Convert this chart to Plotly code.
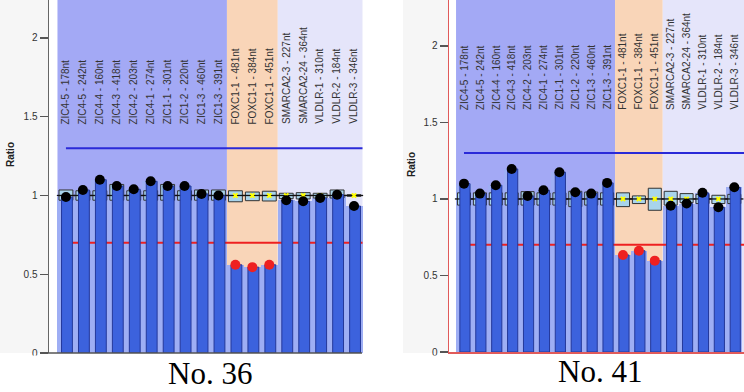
import plotly.graph_objects as go

# ---------------- data ----------------
probes = ["ZIC4-5 - 178nt", "ZIC4-5 - 242nt", "ZIC4-4 - 160nt", "ZIC4-3 - 418nt",
          "ZIC4-2 - 203nt", "ZIC4-1 - 274nt", "ZIC1-1 - 301nt", "ZIC1-2 - 220nt",
          "ZIC1-3 - 460nt", "ZIC1-3 - 391nt", "FOXC1-1 - 481nt", "FOXC1-1 - 384nt",
          "FOXC1-1 - 451nt", "SMARCA2-3 - 227nt", "SMARCA2-24 - 364nt",
          "VLDLR-1 - 310nt", "VLDLR-2 - 184nt", "VLDLR-3 - 346nt"]

ratio_36 = [0.99, 1.035, 1.10, 1.06, 1.04, 1.09, 1.06, 1.06, 1.01, 1.00,
            0.56, 0.545, 0.56, 0.97, 0.963, 0.984, 1.005, 0.933]
box_lo_36 = [0.97, 0.97, 0.97, 0.97, 0.97, 0.97, 0.97, 0.97, 0.97, 0.97,
             0.96, 0.967, 0.965, 0.98, 0.978, 0.984, 0.984, 0.995]
box_hi_36 = [1.035, 1.03, 1.03, 1.07, 1.03, 1.03, 1.07, 1.03, 1.035, 1.035,
             1.03, 1.022, 1.027, 1.014, 1.018, 1.014, 1.035, 1.005]

ratio_41 = [1.10, 1.035, 1.09, 1.196, 1.02, 1.057, 1.175, 1.044, 1.035, 1.105,
            0.634, 0.662, 0.597, 0.956, 0.97, 1.04, 0.946, 1.076]
box_lo_41 = [0.96, 0.96, 0.96, 0.96, 0.96, 0.96, 0.96, 0.95, 0.96, 0.96,
             0.95, 0.97, 0.926, 0.96, 0.976, 0.97, 0.97, 0.97]
box_hi_41 = [1.04, 1.04, 1.04, 1.04, 1.048, 1.04, 1.04, 1.05, 1.045, 1.04,
             1.04, 1.02, 1.07, 1.05, 1.035, 1.03, 1.024, 1.03]

median_ref = [1.0] * len(probes)
upper_threshold = 1.3
lower_threshold = 0.7
tick_vals = [0, 0.5, 1, 1.5, 2]
tick_text = ["0", "0.5", "1", "1.5", "2"]
sample_names = ["No. 36", "No. 41"]

# groups (index ranges of probes)
groups = [(-0.5, 9.5, "#a3a9f5"), (9.5, 12.5, "#f9d5b8"), (12.5, 17.5, "#e5e5fa")]

# ---------------- styles ----------------
W, H = 744, 392
LIGHT = "#9eaef4"
DARK = "#3c62dd"
EDGE = "#24389a"
BOXFILL = "#a8d4ec"
BLUE = "#2a2ad8"
RED = "#ee2020"
FONT = "Arial, Liberation Sans, sans-serif"

fig = go.Figure()


def px_x(p):
    return p / W


def px_y(p):
    return (H - p) / H


def add_panel(xa, ya, xo, yo, vals, lo, hi, xend):
    idx = list(range(len(probes)))
    base = dict(xaxis=xa, yaxis=ya, showlegend=False, hoverinfo="skip")
    over = dict(xaxis=xo, yaxis=yo, showlegend=False, hoverinfo="skip")
    fig.add_trace(go.Bar(x=idx, y=vals, width=1.0,
                         marker=dict(color=LIGHT, line=dict(width=0)), **base))
    fig.add_trace(go.Bar(x=idx, y=[h - l for h, l in zip(hi, lo)], base=lo, width=0.82,
                         marker=dict(color=BOXFILL, line=dict(color="#333333", width=1)),
                         **base))
    fig.add_trace(go.Scatter(x=idx, y=median_ref, mode="markers",
                             marker=dict(symbol="line-ew", size=13,
                                         line=dict(color="#111111", width=1.3)), **base))
    fig.add_trace(go.Scatter(x=idx, y=median_ref, mode="markers",
                             marker=dict(symbol="x", size=5, color="#ffff00",
                                         line=dict(width=0)), **base))
    fig.add_trace(go.Scatter(x=[0, xend], y=[upper_threshold] * 2, mode="lines",
                             line=dict(color=BLUE, width=2), **base))
    fig.add_trace(go.Scatter(x=[0, xend], y=[lower_threshold] * 2, mode="lines",
                             line=dict(color=RED, width=2), **base))
    # overlay subplot: dark bars and sample dots drawn above reference marks
    fig.add_trace(go.Bar(x=idx, y=vals, width=0.64, offset=-0.26,
                         marker=dict(color=DARK, line=dict(color=EDGE, width=1)), **over))
    fig.add_trace(go.Scatter(x=idx, y=vals, mode="markers",
                             marker=dict(size=10,
                                         color=[RED if v < lower_threshold else "black" for v in vals],
                                         line=dict(width=0)), **over))


add_panel("x", "y", "x3", "y3", ratio_36, box_lo_36, box_hi_36, 17.5)
add_panel("x2", "y2", "x4", "y4", ratio_41, box_lo_41, box_hi_41, 17.7)

shapes = []
# gray margins (screenshot backgrounds)
shapes.append(dict(type="rect", xref="paper", yref="paper", x0=0, x1=px_x(48),
                   y0=px_y(353), y1=1, fillcolor="#f6f6f6", line=dict(width=0), layer="below"))
shapes.append(dict(type="rect", xref="paper", yref="paper", x0=px_x(403), x1=px_x(449),
                   y0=px_y(353), y1=1, fillcolor="#f6f6f6", line=dict(width=0), layer="below"))
# group bands
for xr, yr, last in (("x", "y domain", 17.5), ("x2", "y2 domain", 18.5)):
    for i, (a, b, c) in enumerate(groups):
        if i == len(groups) - 1:
            b = last
        shapes.append(dict(type="rect", xref=xr, yref=yr, x0=a, x1=b, y0=0, y1=1,
                           fillcolor=c, line=dict(width=0), layer="below"))
# left bottom axis line
shapes.append(dict(type="line", xref="paper", yref="paper", x0=px_x(48), x1=px_x(362),
                   y0=px_y(353), y1=px_y(353), line=dict(color="#555555", width=1.5),
                   layer="above"))
# white cover below the screenshots
shapes.append(dict(type="rect", xref="paper", yref="paper", x0=0, x1=1, y0=0,
                   y1=px_y(355.5), fillcolor="white", line=dict(width=0), layer="above"))

annotations = []
for xr, yr, ybase in (("x", "y", 1.44), ("x2", "y2", 1.57)):
    for i, p in enumerate(probes):
        annotations.append(dict(x=i, y=ybase, xref=xr, yref=yr, text=p, textangle=-90,
                                showarrow=False, xanchor="center", yanchor="bottom",
                                font=dict(family=FONT, size=10, color="#333333")))
annotations.append(dict(x=px_x(10), y=px_y(155), xref="paper", yref="paper", text="<b>Ratio</b>",
                        textangle=-90, showarrow=False, xanchor="center", yanchor="middle",
                        font=dict(family=FONT, size=10, color="#222222")))
annotations.append(dict(x=px_x(411), y=px_y(164), xref="paper", yref="paper", text="<b>Ratio</b>",
                        textangle=-90, showarrow=False, xanchor="center", yanchor="middle",
                        font=dict(family=FONT, size=10, color="#222222")))
annotations.append(dict(x=px_x(210), y=px_y(373), xref="paper", yref="paper", text=sample_names[0],
                        showarrow=False, xanchor="center", yanchor="middle", borderpad=0,
                        font=dict(family="Liberation Serif, serif", size=31, color="black")))
annotations.append(dict(x=px_x(600), y=px_y(371), xref="paper", yref="paper", text=sample_names[1],
                        showarrow=False, xanchor="center", yanchor="middle", borderpad=0,
                        font=dict(family="Liberation Serif, serif", size=31, color="black")))

yaxis_common = dict(tickvals=tick_vals, ticktext=tick_text, ticks="outside", ticklen=8,
                    tickcolor="#555555", tickwidth=1.2, showgrid=False, zeroline=False,
                    showline=True, tickfont=dict(family=FONT, size=10, color="#333333"),
                    fixedrange=True, automargin=False)
xaxis_common = dict(showticklabels=False, ticks="", showgrid=False, zeroline=False,
                    fixedrange=True, automargin=False)
hidden = dict(visible=False, showgrid=False, zeroline=False, fixedrange=True, automargin=False)

XR1 = [-1.0, 18.06]
YR1 = [0, 2.241]
XR2 = [-0.943, 17.61]
YR2 = [0, 2.30]

fig.update_layout(
    template="none",
    width=W, height=H, autosize=False,
    margin=dict(l=0, r=0, t=0, b=0, pad=0),
    paper_bgcolor="white", plot_bgcolor="white",
    barmode="overlay", bargap=0, showlegend=False,
    xaxis=dict(domain=[px_x(49), px_x(372)], range=XR1, anchor="y", **xaxis_common),
    yaxis=dict(domain=[px_y(353), 1], range=YR1, anchor="x", linecolor="#666666",
               linewidth=1.5, **yaxis_common),
    xaxis2=dict(domain=[px_x(449), 1], range=XR2, anchor="y2", showline=True,
                linecolor="#e05a5a", linewidth=1.5, **xaxis_common),
    yaxis2=dict(domain=[px_y(352), 1], range=YR2, anchor="x2", linecolor="#e05a5a",
                linewidth=1.5, **yaxis_common),
    xaxis3=dict(overlaying="x", range=XR1, anchor="y3", **hidden),
    yaxis3=dict(overlaying="y", range=YR1, anchor="x3", **hidden),
    xaxis4=dict(overlaying="x2", range=XR2, anchor="y4", **hidden),
    yaxis4=dict(overlaying="y2", range=YR2, anchor="x4", **hidden),
    shapes=shapes,
    annotations=annotations,
)

fig.write_html(
    "out.html",
    config={"displayModeBar": False, "staticPlot": True},
    post_script="document.body.style.margin='0';document.body.style.padding='0';"
                "document.body.style.overflow='hidden';",
)
